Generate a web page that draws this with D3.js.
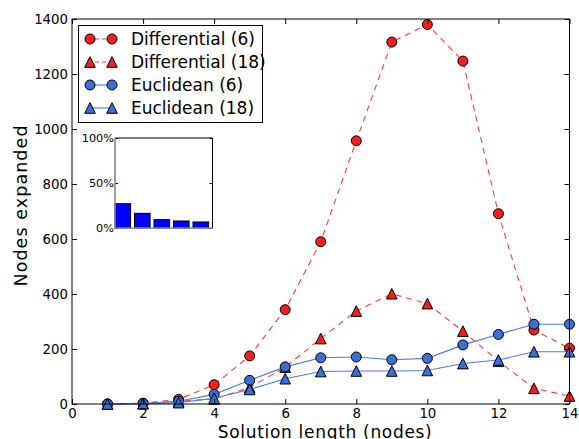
<!DOCTYPE html>
<html><head><meta charset="utf-8">
<script src="https://cdn.jsdelivr.net/npm/d3@7"></script>
<style>body{margin:0;background:#fff} svg{display:block} text{font-family:"DejaVu Sans",sans-serif;fill:#000}</style>
</head><body><svg id="c" width="579" height="439"></svg>
<script>
// ---- data ----
const solutionLength = [1,2,3,4,5,6,7,8,9,10,11,12,13,14];
const differential6  = [0,3,17,70,175,343,590,957,1316,1380,1247,692,269,203];
const differential18 = [0,2,10,18,60,134,238,338,401,365,265,156,57,29];
const euclidean6     = [0,2,10,35,86,135,168,171,161,166,215,253,290,290];
const euclidean18    = [0,1,5,21,53,92,118,120,120,122,147,160,190,190];
const seriesNames = ["Differential (6)","Differential (18)","Euclidean (6)","Euclidean (18)"];
const xTicks = [0,2,4,6,8,10,12,14];
const yTicks = [0,200,400,600,800,1000,1200,1400];
const insetValues = [0.27,0.163,0.093,0.078,0.067];
const insetTicks = [0,0.5,1];
const insetTickLabels = ["0%","50%","100%"];

// ---- styles ----
const RED = "#ee2020", RED_LINE = "#ff3a3a", BLUE = "#3c6fd4", BLUE_LINE = "#4d7ddb";
const series = [
  {name:seriesNames[0], data:differential6,  fill:RED,  line:RED_LINE,  dash:"6,5", marker:"circle"},
  {name:seriesNames[1], data:differential18, fill:RED,  line:RED_LINE,  dash:"6,5", marker:"tri"},
  {name:seriesNames[2], data:euclidean6,     fill:BLUE, line:BLUE_LINE, dash:null,  marker:"circle"},
  {name:seriesNames[3], data:euclidean18,    fill:BLUE, line:BLUE_LINE, dash:null,  marker:"tri"}
];

const svg = d3.select("#c");
const L = 72, R = 569.5, T = 19, B = 404;
const x = d3.scaleLinear().domain([0,14]).range([L,R]);
const y = d3.scaleLinear().domain([0,1400]).range([B,T]);

const R_M = 5;
function drawMarker(g, type, cx, cy, fill){
  if(type==="circle"){
    g.append("circle").attr("cx",cx).attr("cy",cy).attr("r",R_M)
      .attr("fill",fill).attr("stroke","#000").attr("stroke-width",1);
  } else {
    const r = 5.3;
    g.append("path").attr("d",`M${cx},${cy-r}L${cx-r},${cy+r}L${cx+r},${cy+r}Z`)
      .attr("fill",fill).attr("stroke","#000").attr("stroke-width",1);
  }
}

const plot = svg.append("g");
const lineGen = d3.line().x((d,i)=>x(solutionLength[i])).y(d=>y(d));
series.forEach(s=>{
  const g = plot.append("g");
  g.append("path").attr("d",lineGen(s.data)).attr("fill","none")
    .attr("stroke",s.line).attr("stroke-width",1.1)
    .attr("stroke-dasharray",s.dash);
  s.data.forEach((v,i)=>drawMarker(g,s.marker,x(solutionLength[i]),y(v),s.fill));
});

// axes
const ax = svg.append("g");
ax.append("g").attr("transform",`translate(0,${B})`)
  .call(d3.axisBottom(x).tickValues(xTicks).tickSize(-5).tickPadding(5).tickFormat(d3.format("d")));
ax.append("g").attr("transform",`translate(0,${T})`)
  .call(d3.axisTop(x).tickValues(xTicks).tickSize(-5).tickFormat(""));
ax.append("g").attr("transform",`translate(${L},0)`)
  .call(d3.axisLeft(y).tickValues(yTicks).tickSize(-5).tickPadding(4).tickFormat(d3.format("d")));
ax.append("g").attr("transform",`translate(${R},0)`)
  .call(d3.axisRight(y).tickValues(yTicks).tickSize(-5).tickFormat(""));
ax.selectAll(".domain").remove();
ax.selectAll(".tick line").attr("stroke","#000");
ax.selectAll(".tick text").attr("font-size",13.3).attr("font-family","DejaVu Sans").attr("fill","#000");
svg.append("rect").attr("x",L).attr("y",T).attr("width",R-L).attr("height",B-T)
  .attr("fill","none").attr("stroke","#000").attr("stroke-width",1);

// axis labels
svg.append("text").attr("x",(L+R)/2 + 4).attr("y",437.5).attr("text-anchor","middle")
  .attr("font-size",17).attr("textLength",214).attr("lengthAdjust","spacing")
  .text("Solution length (nodes)");
svg.append("text").attr("transform",`translate(27,206) rotate(-90)`)
  .attr("text-anchor","middle").attr("font-size",17.5).attr("textLength",161).attr("lengthAdjust","spacing")
  .text("Nodes expanded");

// legend
const lg = svg.append("g");
lg.append("rect").attr("x",78.5).attr("y",25.5).attr("width",184).attr("height",97)
  .attr("fill","#fff").attr("stroke","#000").attr("stroke-width",1);
const rowY = [39,62,85,108];
series.forEach((s,i)=>{
  const yy = rowY[i];
  lg.append("line").attr("x1",90).attr("x2",112).attr("y1",yy).attr("y2",yy)
    .attr("stroke",s.line).attr("stroke-width",1.1).attr("stroke-dasharray",s.dash?"4,3":null)
    .attr("stroke-dashoffset",s.dash?-5:0);
  drawMarker(lg,s.marker,90,yy,s.fill);
  drawMarker(lg,s.marker,112,yy,s.fill);
  lg.append("text").attr("x",131).attr("y",yy).attr("dy","0.36em")
    .attr("font-size",17).text(s.name);
});

// inset bar chart
const iL = 115, iR = 212.5, iT = 138, iB = 228;
const ix = d3.scaleLinear().domain([0,5]).range([iL,iR]);
const iy = d3.scaleLinear().domain([0,1]).range([iB,iT]);
const inset = svg.append("g");
inset.append("rect").attr("x",iL).attr("y",iT).attr("width",iR-iL).attr("height",iB-iT).attr("fill","#fff");
inset.selectAll("rect.bar").data(insetValues).enter().append("rect").attr("class","bar")
  .attr("x",(d,i)=>ix(i)).attr("width",ix(0.8)-ix(0))
  .attr("y",d=>iy(d)).attr("height",d=>iy(0)-iy(d))
  .attr("fill","#0000ff").attr("stroke","#000").attr("stroke-width",1);
inset.append("g").attr("transform",`translate(${iL},0)`)
  .call(d3.axisLeft(iy).tickValues(insetTicks).tickSize(-3).tickPadding(1).tickFormat((d,i)=>insetTickLabels[i]));
inset.append("g").attr("transform",`translate(${iR},0)`)
  .call(d3.axisRight(iy).tickValues(insetTicks).tickSize(-3).tickFormat(""));
inset.selectAll(".domain").remove();
inset.selectAll(".tick line").attr("stroke","#000");
inset.selectAll(".tick text").attr("font-size",11.3).attr("font-family","DejaVu Sans").attr("fill","#000");
inset.append("path").attr("d",`M${iL},${iT}H${iR}V${iB}`).attr("fill","none").attr("stroke","#000");
inset.append("path").attr("d",`M${iL},${iT}V${iB}H${iR}`).attr("fill","none").attr("stroke","#888").attr("stroke-width",1.6);
</script></body></html>
